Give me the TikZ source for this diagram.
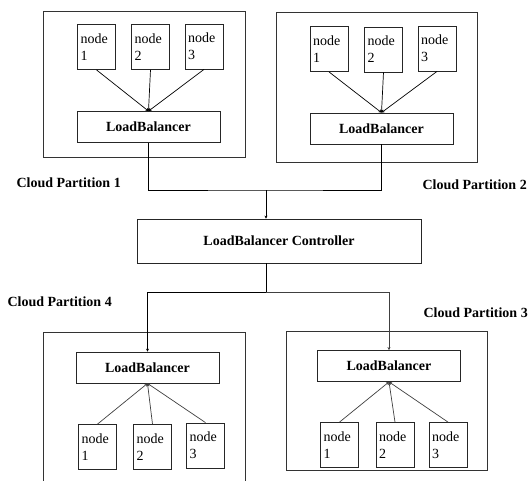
\documentclass[tikz,border=0pt]{standalone}
\usepackage{fontspec}
\setmainfont{Liberation Serif}
\usepackage{tikz}
\usetikzlibrary{positioning, arrows.meta}

\tikzset{
  part/.style={draw, black!80, line width=0.9pt, anchor=north west, inner sep=0pt},
  srv/.style={draw, black!85, line width=0.8pt, text=black, font=\fontsize{14}{17}\selectfont, align=left, text width=32pt, inner xsep=3pt, minimum height=45pt},
  lb/.style={draw, black!85, line width=0.8pt, text=black, font=\fontsize{14}{17}\selectfont\bfseries, minimum width=143pt, minimum height=31pt},
  plabel/.style={font=\fontsize{14}{17}\selectfont\bfseries, anchor=west},
  link/.style={line width=0.7pt, -{Stealth[length=3pt, width=3pt]}}
}

\begin{document}
\begin{tikzpicture}[x=1pt, y=-1pt]

\clip (0,0) rectangle (528,480);
\fill[white] (0,0) rectangle (528,480);

% Cloud partitions
\draw[part] (43,11) rectangle (245,157);
\draw[part] (276,12) rectangle (477,162);
\draw[part] (43,332) rectangle (245,495);
\draw[part] (286,331) rectangle (487,470);

% Load balancers
\node[lb] (lb1) at (148.5,127) {LoadBalancer};
\node[lb] (lb2) at (381.5,128.5) {LoadBalancer};
\node[lb] (lb4) at (147.5,367.5) {LoadBalancer};
\node[lb] (lb3) at (389,366) {LoadBalancer};

% Controller
\node[draw, black!85, line width=0.8pt, text=black, font=\fontsize{14}{17}\selectfont\bfseries,
      minimum width=284pt, minimum height=44pt] (ctrl) at (279,241) {LoadBalancer Controller};

% Nodes of partition 1 and 2
\foreach \i/\x/\y in {1/96.5/47, 2/150.5/47, 3/204/46.5}
    \node[srv] (a-\i) at (\x,\y) {node\\\i};
\foreach \i/\x/\y in {1/329/49, 2/383.5/49.5, 3/437/48.5}
    \node[srv] (b-\i) at (\x,\y) {node\\\i};

% Nodes of partition 4 and 3
\foreach \i/\x/\y in {1/97.5/447, 2/152.5/447, 3/205.5/445.5}
    \node[srv] (d-\i) at (\x,\y) {node\\\i};
\foreach \i/\x/\y in {1/339.5/445, 2/395/445, 3/448/445}
    \node[srv] (c-\i) at (\x,\y) {node\\\i};

% Connections inside partitions
\foreach \i in {1,2,3} {
    \draw[link] (a-\i.south) -- (lb1.north);
    \draw[link] (b-\i.south) -- (lb2.north);
    \draw[link, black!75] (d-\i.north) -- (lb4.south);
    \draw[link, black!75] (c-\i.north) -- (lb3.south);
}

% Connections to controller
\coordinate (j1) at (266,190);
\coordinate (j2) at (266,292);
\draw[line width=0.8pt] (lb1.south) |- (j1) -| (lb2.south);
\draw[link] (j1) -- (j1 |- ctrl.north);
\draw[line width=0.8pt] (ctrl.south -| j2) -- (j2);
\draw[link] (j2) -| (lb4.north);
\draw[link, black!75] (j2) -| (lb3.north);

% Labels
\node[plabel] (l1) at (13,183) {Cloud Partition 1};
\node[plabel] (l2) at (419,185) {Cloud Partition 2};
\node[plabel] (l4) at (4,302) {Cloud Partition 4};
\node[plabel] (l3) at (420,313) {Cloud Partition 3};

\end{tikzpicture}
\end{document}
